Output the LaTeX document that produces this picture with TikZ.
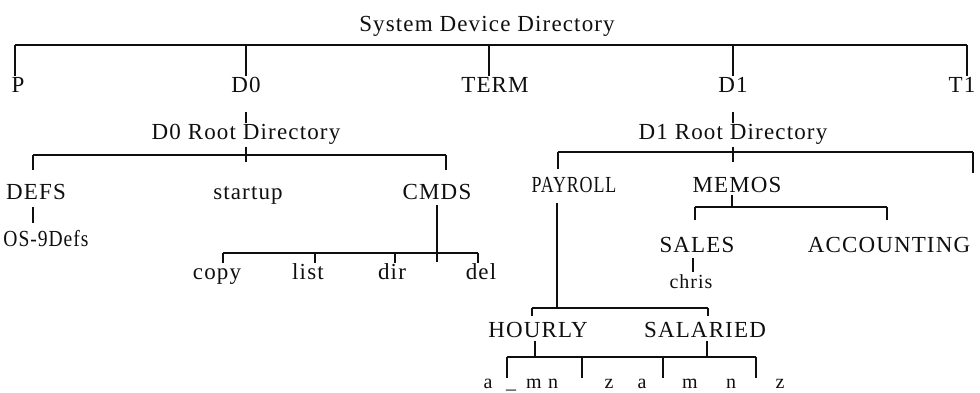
\documentclass[tikz,border=0pt]{standalone}
\usepackage{fontspec}
\setmainfont{Liberation Serif}[LetterSpace=5]
\definecolor{ink}{RGB}{15,15,15}
\tikzset{
  tree/.style={draw=ink,line width=1.8pt},
  lbl/.style={font=\fontsize{23}{26}\selectfont,text=ink,inner sep=1.5pt,anchor=base},
  small lbl/.style={lbl,font=\fontsize{20}{23}\selectfont},
}
\begin{document}
\begin{tikzpicture}[x=1pt,y=-1pt]
  \useasboundingbox (0,0) rectangle (980,393);
  % devices
  \node[lbl] (sys) at (487,32) {System Device Directory};
  \foreach \x/\n/\txt in {18/p/P,246/d0/D0,495/term/TERM,733/d1/D1,962/t1/T1}
    \node[lbl] (\n) at (\x,93) {\txt};
  \coordinate (topL) at (15,45); \coordinate (topR) at (967,45);
  \draw[tree] (topL) -- (topR);
  \foreach \x/\n in {15/p,246/d0,489/term,733/d1,967/t1}
    \draw[tree] (\x,45) -- (\x,0 |- \n.north);

  % D0
  \node[lbl] (d0root) at (246,140) {D0 Root Directory};
  \draw[tree] (d0.south) ++(0,17) -- (d0root.north);
  \coordinate (r0L) at (33,155); \coordinate (r0R) at (446,155);
  \draw[tree] (r0L) -- (r0R);
  \draw[tree] (d0root.south) -- (d0root.south |- 0,162);
  \draw[tree] (r0L) -- ++(0,15) (r0R) -- ++(0,15);
  \node[lbl] (defs) at (36,200) {DEFS};
  \node[lbl] (startup) at (248,200) {startup};
  \node[lbl] (cmds) at (437,200) {CMDS};
  \node[lbl] (os9) at (46,246) {\scalebox{0.85}[1]{OS-9Defs}};
  \draw[tree] (defs.south -| r0L) ++(0,5) -- ++(0,16);
  \coordinate (cL) at (223,253); \coordinate (cR) at (478,253);
  \draw[tree] (cL) -- (cR);
  \draw[tree] (cmds.south) ++(0,3) -- ++(0,57);
  \foreach \x/\lx/\n in {223/217/copy,315/308/list,395/392/dir,478/481/del}{
    \node[lbl] (\n) at (\lx,279) {\n};
    \draw[tree] (\x,253) -- ++(0,10);
  }

  % D1
  \node[lbl] (d1root) at (733,140) {D1 Root Directory};
  \draw[tree] (d1.south) ++(0,17) -- (d1root.north);
  \coordinate (r1L) at (558,152); \coordinate (r1R) at (973,152);
  \draw[tree] (r1L) -- (r1R);
  \draw[tree] (d1root.south) -- (d1root.south |- 0,162);
  \draw[tree] (r1L) -- ++(0,17) (r1R) -- ++(0,21);
  \node[lbl] (payroll) at (574,193) {\scalebox{0.78}[1]{PAYROLL}};
  \node[lbl] (memos) at (737,193) {MEMOS};
  \coordinate (mJ) at (732,207);
  \coordinate (mL) at (695,207); \coordinate (mR) at (887,207);
  \draw[tree] (mJ) -- ++(0,-12);
  \draw[tree] (mL) -- (mR);
  \draw[tree] (mL) -- ++(0,13) (mR) -- ++(0,13);
  \node[lbl] (sales) at (697,252) {SALES};
  \node[lbl] (accounting) at (889,252) {ACCOUNTING};
  \node[small lbl] (chris) at (691,288) {chris};
  \draw[tree] (sales.south) ++(-4,4) -- ++(0,14);

  % payroll
  \coordinate (hsJ) at (557,308);
  \coordinate (hsL) at (532,308); \coordinate (hsR) at (708,308);
  \draw[tree] (payroll.south -| hsJ) ++(0,8) -- (hsJ);
  \draw[tree] (hsL) -- (hsR);
  \draw[tree] (hsL) -- ++(0,8) (hsR) -- ++(0,8);
  \node[lbl] (hourly) at (538,337) {HOURLY};
  \node[lbl] (salaried) at (705,337) {SALARIED};
  \coordinate (bL) at (507,357); \coordinate (bR) at (756,357);
  \draw[tree] (bL) -- (bR);
  \draw[tree] (535,357) -- ++(0,-16) (707,357) -- ++(0,-16);
  \foreach \x in {507,582,663,756}
    \draw[tree] (\x,357) -- ++(0,21);
  \foreach \x/\txt [count=\i] in {488/a,511/\_,534/m,553/n,609/z,642/a,690/m,731/n,780/z}
    \node[small lbl] (b\i) at (\x,388) {\txt};
\end{tikzpicture}
\end{document}
